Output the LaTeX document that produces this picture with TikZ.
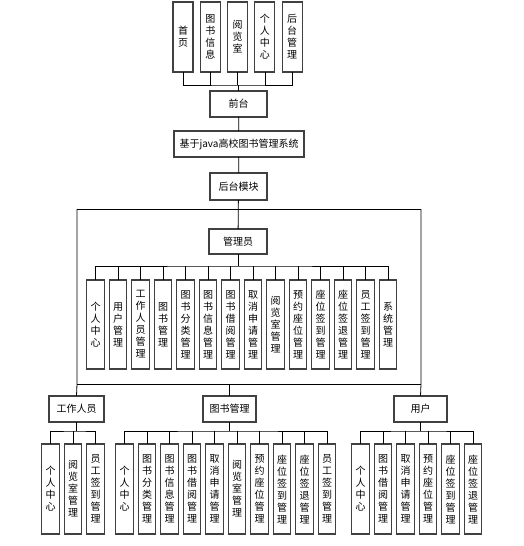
\documentclass[tikz,border=0pt]{standalone}
\usepackage{fontspec}
\newfontfamily\cjkfont{Noto Sans CJK SC}
\usetikzlibrary{positioning}

\begin{document}
\begin{tikzpicture}[
    x=1pt, y=1pt,
    node distance=5pt,
    box/.style={rectangle, draw=black!75, line width=1.1pt, fill=white, inner sep=0pt, outer sep=0pt, font=\cjkfont\fontsize{10}{12}\selectfont, align=center},
    topbox/.style={box, minimum width=20pt, minimum height=70pt},
    midbox/.style={box, minimum width=57pt, minimum height=26pt},
    leaf/.style={box, minimum width=17.5pt, minimum height=89pt},
    link/.style={draw=black, line width=0.8pt}
]
\useasboundingbox (0,0) rectangle (524,-546);

% Front pages
\node[topbox] (t1) at (183,-37) {首\\页};
\node[topbox, right=7.3pt of t1] (t2) {图\\书\\信\\息};
\node[topbox, right=7.3pt of t2] (t3) {阅\\览\\室};
\node[topbox, right=7.3pt of t3] (t4) {个\\人\\中\\心};
\node[topbox, right=7.3pt of t4] (t5) {后\\台\\管\\理};

% Main column
\node[midbox] (qt) at (238.5,-104) {前台};
\node[midbox, minimum width=130pt] (xt) at (239,-144) {基于java高校图书管理系统};
\node[midbox, minimum height=27pt] (ht) at (238.5,-186.5) {后台模块};
\node[midbox, minimum width=58pt, minimum height=25pt] (gly) at (238,-241.5) {管理员};

% Admin modules
\node[leaf] (a1) at (95.5,-324.5) {个\\人\\中\\心};
\node[leaf, right=of a1] (a2) {用\\户\\管\\理};
\node[leaf, right=of a2] (a3) {工\\作\\人\\员\\管\\理};
\node[leaf, right=of a3] (a4) {图\\书\\管\\理};
\node[leaf, right=of a4] (a5) {图\\书\\分\\类\\管\\理};
\node[leaf, right=of a5] (a6) {图\\书\\信\\息\\管\\理};
\node[leaf, right=of a6] (a7) {图\\书\\借\\阅\\管\\理};
\node[leaf, right=of a7] (a8) {取\\消\\申\\请\\管\\理};
\node[leaf, right=of a8] (a9) {阅\\览\\室\\管\\理};
\node[leaf, right=of a9] (a10) {预\\约\\座\\位\\管\\理};
\node[leaf, right=of a10] (a11) {座\\位\\签\\到\\管\\理};
\node[leaf, right=of a11] (a12) {座\\位\\签\\退\\管\\理};
\node[leaf, right=of a12] (a13) {员\\工\\签\\到\\管\\理};
\node[leaf, right=of a13] (a14) {系\\统\\管\\理};

% Roles
\node[midbox, minimum width=55pt] (gz) at (76.5,-409) {工作人员};
\node[midbox, minimum width=53pt] (ts) at (229.5,-409) {图书管理};
\node[midbox, minimum width=53pt] (yh) at (420.5,-409) {用户};

% Staff
\node[leaf, minimum height=90pt] (g1) at (50.5,-489) {个\\人\\中\\心};
\node[leaf, minimum height=90pt, right=of g1] (g2) {阅\\览\\室\\管\\理};
\node[leaf, minimum height=90pt, right=of g2] (g3) {员\\工\\签\\到\\管\\理};

% Book management
\node[leaf, minimum height=90pt] (b1) at (124.5,-489) {个\\人\\中\\心};
\node[leaf, minimum height=90pt, right=of b1] (b2) {图\\书\\分\\类\\管\\理};
\node[leaf, minimum height=90pt, right=of b2] (b3) {图\\书\\信\\息\\管\\理};
\node[leaf, minimum height=90pt, right=of b3] (b4) {图\\书\\借\\阅\\管\\理};
\node[leaf, minimum height=90pt, right=of b4] (b5) {取\\消\\申\\请\\管\\理};
\node[leaf, minimum height=90pt, right=of b5] (b6) {阅\\览\\室\\管\\理};
\node[leaf, minimum height=90pt, right=of b6] (b7) {预\\约\\座\\位\\管\\理};
\node[leaf, minimum height=90pt, right=of b7] (b8) {座\\位\\签\\到\\管\\理};
\node[leaf, minimum height=90pt, right=of b8] (b9) {座\\位\\签\\退\\管\\理};
\node[leaf, minimum height=90pt, right=of b9] (b10) {员\\工\\签\\到\\管\\理};

% User
\node[leaf, minimum height=90pt] (u1) at (360.5,-489) {个\\人\\中\\心};
\node[leaf, minimum height=90pt, right=of u1] (u2) {图\\书\\借\\阅\\管\\理};
\node[leaf, minimum height=90pt, right=of u2] (u3) {取\\消\\申\\请\\管\\理};
\node[leaf, minimum height=90pt, right=of u3] (u4) {预\\约\\座\\位\\管\\理};
\node[leaf, minimum height=90pt, right=of u4] (u5) {座\\位\\签\\到\\管\\理};
\node[leaf, minimum height=90pt, right=of u5] (u6) {座\\位\\签\\退\\管\\理};

% Frame corners
\coordinate (fl) at (77,-209);
\coordinate (fr) at (421,-209);
\coordinate (bl) at (77,-384);
\coordinate (br) at (421,-384);

% Top tree
\path[link] (qt.north) -- ++(0,6) coordinate (topbus);
\path[link] (t1.south) |- (topbus) -| (t5.south)
    (t2.south) -- (t2.south |- topbus)
    (t3.south) -- (t3.south |- topbus)
    (t4.south) -- (t4.south |- topbus);

% Main column
\path[link] (qt) -- (xt);
\path[link] (xt) -- (ht);
\path[link] (ht) -- (gly);

% Frame
\path[link] (fl) -- (fr);
\path[link] (fl) -- (bl) -- (gz.north);
\path[link] (fr) -- (br) -- (yh.north);
\path[link] (bl) -- (br);
\path[link] (ts.north) -- (ts.north |- bl);

% Admin tree
\path[link] (gly.south) -- ++(0,-12) coordinate (admbus);
\path[link] (a1.north) |- (admbus) -| (a14.north)
    (a2.north) -- (a2.north |- admbus)
    (a3.north) -- (a3.north |- admbus)
    (a4.north) -- (a4.north |- admbus)
    (a5.north) -- (a5.north |- admbus)
    (a6.north) -- (a6.north |- admbus)
    (a7.north) -- (a7.north |- admbus)
    (a8.north) -- (a8.north |- admbus)
    (a9.north) -- (a9.north |- admbus)
    (a10.north) -- (a10.north |- admbus)
    (a11.north) -- (a11.north |- admbus)
    (a12.north) -- (a12.north |- admbus)
    (a13.north) -- (a13.north |- admbus);

% Staff tree
\path[link] (gz.south) -- ++(0,-9) coordinate (gzbus);
\path[link] (g1.north) |- (gzbus) -| (g3.north)
    (g2.north) -- (g2.north |- gzbus);

% Book tree
\path[link] (ts.south) -- ++(0,-9) coordinate (tsbus);
\path[link] (b1.north) |- (tsbus) -| (b10.north)
    (b2.north) -- (b2.north |- tsbus)
    (b3.north) -- (b3.north |- tsbus)
    (b4.north) -- (b4.north |- tsbus)
    (b5.north) -- (b5.north |- tsbus)
    (b6.north) -- (b6.north |- tsbus)
    (b7.north) -- (b7.north |- tsbus)
    (b8.north) -- (b8.north |- tsbus)
    (b9.north) -- (b9.north |- tsbus);

% User tree
\path[link] (yh.south) -- ++(0,-9) coordinate (yhbus);
\path[link] (u1.north) |- (yhbus) -| (u6.north)
    (u2.north) -- (u2.north |- yhbus)
    (u3.north) -- (u3.north |- yhbus)
    (u4.north) -- (u4.north |- yhbus)
    (u5.north) -- (u5.north |- yhbus);

\end{tikzpicture}
\end{document}
